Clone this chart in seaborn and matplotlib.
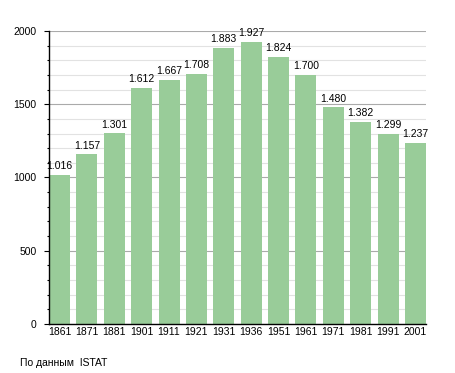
import matplotlib
matplotlib.use("Agg")
import matplotlib.pyplot as plt
import seaborn as sns
import pandas as pd
from matplotlib.ticker import MultipleLocator

# Данные переписей
years = ["1861", "1871", "1881", "1901", "1911", "1921", "1931",
         "1936", "1951", "1961", "1971", "1981", "1991", "2001"]
population = [1016, 1157, 1301, 1612, 1667, 1708, 1883,
              1927, 1824, 1700, 1480, 1382, 1299, 1237]
labels = ["1.016", "1.157", "1.301", "1.612", "1.667", "1.708", "1.883",
          "1.927", "1.824", "1.700", "1.480", "1.382", "1.299", "1.237"]

df = pd.DataFrame({"year": years, "pop": population})

sns.set_style("white")
plt.rcParams["font.family"] = ["Liberation Sans", "DejaVu Sans"]
plt.rcParams["text.color"] = "black"
plt.rcParams["xtick.color"] = "black"
plt.rcParams["ytick.color"] = "black"

fig = plt.figure(figsize=(4.55, 3.73), dpi=100)
ax = fig.add_axes([0.1077, 0.1314, 0.8286, 0.7855])
ax.set_axisbelow(True)

bar_w = 0.77
sns.barplot(data=df, x="year", y="pop", color="#99cc99", saturation=1,
            width=bar_w, linewidth=0, ax=ax)

ax.set_ylim(0, 2000)
ax.set_xlim(-bar_w / 2, len(years) - 1 + bar_w / 2)
ax.yaxis.set_major_locator(MultipleLocator(500))
ax.yaxis.set_minor_locator(MultipleLocator(100))
ax.grid(which="minor", axis="y", color="#e2e2e2", lw=0.8)
ax.grid(which="major", axis="y", color="#aaaaaa", lw=0.8)

for i, lab in enumerate(labels):
    ax.text(i, population[i] + 25, lab, ha="center", va="bottom", fontsize=7.5)

for s in ["top", "right"]:
    ax.spines[s].set_visible(False)
for s in ["left", "bottom"]:
    ax.spines[s].set_color("black")
    ax.spines[s].set_linewidth(1)
    ax.spines[s].set_zorder(4)

ax.tick_params(axis="y", which="major", left=True, length=3.6, width=0.8, labelsize=7.5, pad=5.5)
ax.tick_params(axis="y", which="minor", left=True, length=1.8, width=0.8)
ax.tick_params(axis="x", bottom=False, length=0, labelsize=7.5, pad=2.5)
ax.set_xlabel("")
ax.set_ylabel("")

fig.text(20 / 455, (373 - 363) / 373, "По данным  ISTAT", fontsize=7.5, va="center")

fig.savefig("out.png", dpi=100)
